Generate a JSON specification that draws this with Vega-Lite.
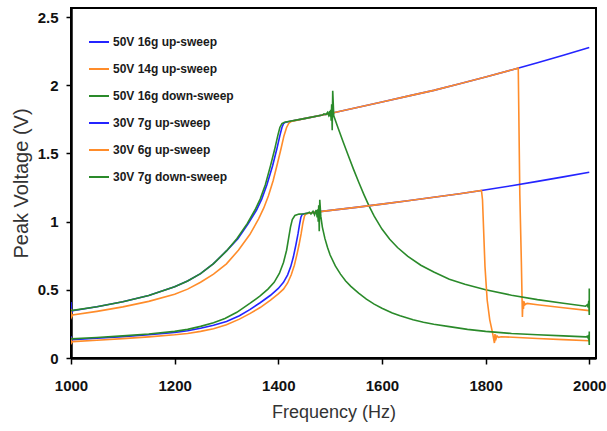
{
  "$schema": "https://vega.github.io/schema/vega-lite/v6.json",
  "width": 525,
  "height": 350,
  "padding": {"left": 71, "top": 8, "right": 11, "bottom": 73},
  "autosize": {"type": "none"},
  "background": "white",
  "config": {"view": {"stroke": "#000", "strokeWidth": 2}, "font": "Liberation Sans"},
  "data": {"values": [
    {"s":"50V 16g up-sweep","f":1000,"v":0.41},{"s":"50V 16g up-sweep","f":1001,"v":0.33},{"s":"50V 16g up-sweep","f":1003,"v":0.347},{"s":"50V 16g up-sweep","f":1050,"v":0.376},{"s":"50V 16g up-sweep","f":1100,"v":0.412},{"s":"50V 16g up-sweep","f":1150,"v":0.458},{"s":"50V 16g up-sweep","f":1200,"v":0.522},{"s":"50V 16g up-sweep","f":1225,"v":0.565},{"s":"50V 16g up-sweep","f":1250,"v":0.618},{"s":"50V 16g up-sweep","f":1275,"v":0.692},{"s":"50V 16g up-sweep","f":1300,"v":0.785},{"s":"50V 16g up-sweep","f":1322,"v":0.875},{"s":"50V 16g up-sweep","f":1342,"v":0.985},{"s":"50V 16g up-sweep","f":1358,"v":1.085},{"s":"50V 16g up-sweep","f":1368,"v":1.165},{"s":"50V 16g up-sweep","f":1378,"v":1.27},{"s":"50V 16g up-sweep","f":1389,"v":1.41},{"s":"50V 16g up-sweep","f":1397,"v":1.53},{"s":"50V 16g up-sweep","f":1403,"v":1.63},{"s":"50V 16g up-sweep","f":1407,"v":1.69},{"s":"50V 16g up-sweep","f":1410,"v":1.718},{"s":"50V 16g up-sweep","f":1414,"v":1.729},{"s":"50V 16g up-sweep","f":1450,"v":1.755},{"s":"50V 16g up-sweep","f":1500,"v":1.793},{"s":"50V 16g up-sweep","f":1550,"v":1.835},{"s":"50V 16g up-sweep","f":1600,"v":1.877},{"s":"50V 16g up-sweep","f":1650,"v":1.92},{"s":"50V 16g up-sweep","f":1700,"v":1.962},{"s":"50V 16g up-sweep","f":1750,"v":2.01},{"s":"50V 16g up-sweep","f":1800,"v":2.06},{"s":"50V 16g up-sweep","f":1850,"v":2.112},{"s":"50V 16g up-sweep","f":1900,"v":2.165},{"s":"50V 16g up-sweep","f":1950,"v":2.22},{"s":"50V 16g up-sweep","f":2000,"v":2.277},

    {"s":"50V 14g up-sweep","f":1000,"v":0.36},{"s":"50V 14g up-sweep","f":1001,"v":0.30},{"s":"50V 14g up-sweep","f":1003,"v":0.315},{"s":"50V 14g up-sweep","f":1050,"v":0.342},{"s":"50V 14g up-sweep","f":1100,"v":0.375},{"s":"50V 14g up-sweep","f":1150,"v":0.415},{"s":"50V 14g up-sweep","f":1200,"v":0.467},{"s":"50V 14g up-sweep","f":1225,"v":0.505},{"s":"50V 14g up-sweep","f":1250,"v":0.555},{"s":"50V 14g up-sweep","f":1275,"v":0.615},{"s":"50V 14g up-sweep","f":1300,"v":0.69},{"s":"50V 14g up-sweep","f":1323,"v":0.79},{"s":"50V 14g up-sweep","f":1345,"v":0.905},{"s":"50V 14g up-sweep","f":1362,"v":1.02},{"s":"50V 14g up-sweep","f":1372,"v":1.10},{"s":"50V 14g up-sweep","f":1381,"v":1.19},{"s":"50V 14g up-sweep","f":1390,"v":1.30},{"s":"50V 14g up-sweep","f":1398,"v":1.42},{"s":"50V 14g up-sweep","f":1405,"v":1.53},{"s":"50V 14g up-sweep","f":1411,"v":1.63},{"s":"50V 14g up-sweep","f":1416,"v":1.69},{"s":"50V 14g up-sweep","f":1420,"v":1.72},{"s":"50V 14g up-sweep","f":1425,"v":1.735},{"s":"50V 14g up-sweep","f":1450,"v":1.755},{"s":"50V 14g up-sweep","f":1500,"v":1.793},{"s":"50V 14g up-sweep","f":1550,"v":1.835},{"s":"50V 14g up-sweep","f":1600,"v":1.877},{"s":"50V 14g up-sweep","f":1650,"v":1.92},{"s":"50V 14g up-sweep","f":1700,"v":1.962},{"s":"50V 14g up-sweep","f":1750,"v":2.01},{"s":"50V 14g up-sweep","f":1800,"v":2.06},{"s":"50V 14g up-sweep","f":1850,"v":2.112},{"s":"50V 14g up-sweep","f":1863,"v":2.125},{"s":"50V 14g up-sweep","f":1866,"v":1.2},{"s":"50V 14g up-sweep","f":1869,"v":0.7},{"s":"50V 14g up-sweep","f":1871,"v":0.3},{"s":"50V 14g up-sweep","f":1872,"v":0.42},{"s":"50V 14g up-sweep","f":1873,"v":0.36},{"s":"50V 14g up-sweep","f":1874,"v":0.415},{"s":"50V 14g up-sweep","f":1876,"v":0.39},{"s":"50V 14g up-sweep","f":1880,"v":0.40},{"s":"50V 14g up-sweep","f":1900,"v":0.39},{"s":"50V 14g up-sweep","f":1950,"v":0.368},{"s":"50V 14g up-sweep","f":2000,"v":0.347},

    {"s":"50V 16g down-sweep","f":2000,"v":0.51},{"s":"50V 16g down-sweep","f":2000,"v":0.315},{"s":"50V 16g down-sweep","f":1999,"v":0.42},{"s":"50V 16g down-sweep","f":1998,"v":0.37},{"s":"50V 16g down-sweep","f":1996,"v":0.39},{"s":"50V 16g down-sweep","f":1993,"v":0.38},{"s":"50V 16g down-sweep","f":1950,"v":0.402},{"s":"50V 16g down-sweep","f":1900,"v":0.428},{"s":"50V 16g down-sweep","f":1850,"v":0.46},{"s":"50V 16g down-sweep","f":1800,"v":0.50},{"s":"50V 16g down-sweep","f":1760,"v":0.54},{"s":"50V 16g down-sweep","f":1730,"v":0.578},{"s":"50V 16g down-sweep","f":1700,"v":0.63},{"s":"50V 16g down-sweep","f":1675,"v":0.68},{"s":"50V 16g down-sweep","f":1650,"v":0.745},{"s":"50V 16g down-sweep","f":1630,"v":0.81},{"s":"50V 16g down-sweep","f":1615,"v":0.87},{"s":"50V 16g down-sweep","f":1600,"v":0.945},{"s":"50V 16g down-sweep","f":1585,"v":1.04},{"s":"50V 16g down-sweep","f":1575,"v":1.115},{"s":"50V 16g down-sweep","f":1565,"v":1.2},{"s":"50V 16g down-sweep","f":1555,"v":1.29},{"s":"50V 16g down-sweep","f":1545,"v":1.385},{"s":"50V 16g down-sweep","f":1535,"v":1.485},{"s":"50V 16g down-sweep","f":1525,"v":1.585},{"s":"50V 16g down-sweep","f":1515,"v":1.69},{"s":"50V 16g down-sweep","f":1507,"v":1.775},{"s":"50V 16g down-sweep","f":1505,"v":1.96},{"s":"50V 16g down-sweep","f":1504,"v":1.67},{"s":"50V 16g down-sweep","f":1503,"v":1.86},{"s":"50V 16g down-sweep","f":1502,"v":1.74},{"s":"50V 16g down-sweep","f":1501,"v":1.82},{"s":"50V 16g down-sweep","f":1500,"v":1.77},{"s":"50V 16g down-sweep","f":1499,"v":1.81},{"s":"50V 16g down-sweep","f":1497,"v":1.78},{"s":"50V 16g down-sweep","f":1495,"v":1.80},{"s":"50V 16g down-sweep","f":1492,"v":1.785},{"s":"50V 16g down-sweep","f":1488,"v":1.79},{"s":"50V 16g down-sweep","f":1485,"v":1.781},{"s":"50V 16g down-sweep","f":1450,"v":1.755},{"s":"50V 16g down-sweep","f":1412,"v":1.728},{"s":"50V 16g down-sweep","f":1407,"v":1.718},{"s":"50V 16g down-sweep","f":1403,"v":1.69},{"s":"50V 16g down-sweep","f":1399,"v":1.63},{"s":"50V 16g down-sweep","f":1393,"v":1.53},{"s":"50V 16g down-sweep","f":1385,"v":1.41},{"s":"50V 16g down-sweep","f":1375,"v":1.27},{"s":"50V 16g down-sweep","f":1365,"v":1.165},{"s":"50V 16g down-sweep","f":1355,"v":1.085},{"s":"50V 16g down-sweep","f":1340,"v":0.985},{"s":"50V 16g down-sweep","f":1320,"v":0.875},{"s":"50V 16g down-sweep","f":1300,"v":0.785},{"s":"50V 16g down-sweep","f":1275,"v":0.692},{"s":"50V 16g down-sweep","f":1250,"v":0.618},{"s":"50V 16g down-sweep","f":1225,"v":0.565},{"s":"50V 16g down-sweep","f":1200,"v":0.522},{"s":"50V 16g down-sweep","f":1150,"v":0.458},{"s":"50V 16g down-sweep","f":1100,"v":0.412},{"s":"50V 16g down-sweep","f":1050,"v":0.376},{"s":"50V 16g down-sweep","f":1000,"v":0.347},

    {"s":"30V 7g up-sweep","f":1000,"v":0.16},{"s":"30V 7g up-sweep","f":1001,"v":0.128},{"s":"30V 7g up-sweep","f":1003,"v":0.135},{"s":"30V 7g up-sweep","f":1050,"v":0.145},{"s":"30V 7g up-sweep","f":1100,"v":0.157},{"s":"30V 7g up-sweep","f":1150,"v":0.17},{"s":"30V 7g up-sweep","f":1200,"v":0.187},{"s":"30V 7g up-sweep","f":1225,"v":0.2},{"s":"30V 7g up-sweep","f":1250,"v":0.218},{"s":"30V 7g up-sweep","f":1275,"v":0.24},{"s":"30V 7g up-sweep","f":1300,"v":0.268},{"s":"30V 7g up-sweep","f":1325,"v":0.31},{"s":"30V 7g up-sweep","f":1345,"v":0.355},{"s":"30V 7g up-sweep","f":1365,"v":0.405},{"s":"30V 7g up-sweep","f":1385,"v":0.46},{"s":"30V 7g up-sweep","f":1400,"v":0.51},{"s":"30V 7g up-sweep","f":1410,"v":0.555},{"s":"30V 7g up-sweep","f":1418,"v":0.61},{"s":"30V 7g up-sweep","f":1424,"v":0.67},{"s":"30V 7g up-sweep","f":1429,"v":0.74},{"s":"30V 7g up-sweep","f":1434,"v":0.83},{"s":"30V 7g up-sweep","f":1438,"v":0.91},{"s":"30V 7g up-sweep","f":1441,"v":0.98},{"s":"30V 7g up-sweep","f":1443.5,"v":1.03},{"s":"30V 7g up-sweep","f":1446,"v":1.053},{"s":"30V 7g up-sweep","f":1450,"v":1.058},{"s":"30V 7g up-sweep","f":1480,"v":1.073},{"s":"30V 7g up-sweep","f":1550,"v":1.104},{"s":"30V 7g up-sweep","f":1600,"v":1.128},{"s":"30V 7g up-sweep","f":1650,"v":1.153},{"s":"30V 7g up-sweep","f":1700,"v":1.178},{"s":"30V 7g up-sweep","f":1750,"v":1.204},{"s":"30V 7g up-sweep","f":1792,"v":1.228},{"s":"30V 7g up-sweep","f":1850,"v":1.263},{"s":"30V 7g up-sweep","f":1900,"v":1.295},{"s":"30V 7g up-sweep","f":1950,"v":1.328},{"s":"30V 7g up-sweep","f":2000,"v":1.362},

    {"s":"30V 6g up-sweep","f":1000,"v":0.15},{"s":"30V 6g up-sweep","f":1001,"v":0.11},{"s":"30V 6g up-sweep","f":1003,"v":0.12},{"s":"30V 6g up-sweep","f":1050,"v":0.13},{"s":"30V 6g up-sweep","f":1100,"v":0.142},{"s":"30V 6g up-sweep","f":1150,"v":0.155},{"s":"30V 6g up-sweep","f":1200,"v":0.17},{"s":"30V 6g up-sweep","f":1225,"v":0.18},{"s":"30V 6g up-sweep","f":1250,"v":0.195},{"s":"30V 6g up-sweep","f":1275,"v":0.215},{"s":"30V 6g up-sweep","f":1300,"v":0.243},{"s":"30V 6g up-sweep","f":1325,"v":0.285},{"s":"30V 6g up-sweep","f":1345,"v":0.325},{"s":"30V 6g up-sweep","f":1365,"v":0.37},{"s":"30V 6g up-sweep","f":1385,"v":0.425},{"s":"30V 6g up-sweep","f":1400,"v":0.47},{"s":"30V 6g up-sweep","f":1410,"v":0.505},{"s":"30V 6g up-sweep","f":1418,"v":0.55},{"s":"30V 6g up-sweep","f":1425,"v":0.61},{"s":"30V 6g up-sweep","f":1431,"v":0.68},{"s":"30V 6g up-sweep","f":1436,"v":0.76},{"s":"30V 6g up-sweep","f":1440,"v":0.83},{"s":"30V 6g up-sweep","f":1444,"v":0.91},{"s":"30V 6g up-sweep","f":1447.5,"v":0.99},{"s":"30V 6g up-sweep","f":1450.5,"v":1.04},{"s":"30V 6g up-sweep","f":1453,"v":1.057},{"s":"30V 6g up-sweep","f":1460,"v":1.062},{"s":"30V 6g up-sweep","f":1480,"v":1.073},{"s":"30V 6g up-sweep","f":1550,"v":1.104},{"s":"30V 6g up-sweep","f":1600,"v":1.128},{"s":"30V 6g up-sweep","f":1650,"v":1.153},{"s":"30V 6g up-sweep","f":1700,"v":1.178},{"s":"30V 6g up-sweep","f":1750,"v":1.204},{"s":"30V 6g up-sweep","f":1792,"v":1.228},{"s":"30V 6g up-sweep","f":1794,"v":1.16},{"s":"30V 6g up-sweep","f":1798.8,"v":0.67},{"s":"30V 6g up-sweep","f":1803,"v":0.425},{"s":"30V 6g up-sweep","f":1808,"v":0.28},{"s":"30V 6g up-sweep","f":1813.6,"v":0.18},{"s":"30V 6g up-sweep","f":1817,"v":0.11},{"s":"30V 6g up-sweep","f":1818,"v":0.175},{"s":"30V 6g up-sweep","f":1820,"v":0.14},{"s":"30V 6g up-sweep","f":1822,"v":0.162},{"s":"30V 6g up-sweep","f":1825,"v":0.152},{"s":"30V 6g up-sweep","f":1830,"v":0.156},{"s":"30V 6g up-sweep","f":1900,"v":0.143},{"s":"30V 6g up-sweep","f":1950,"v":0.135},{"s":"30V 6g up-sweep","f":2000,"v":0.127},

    {"s":"30V 7g down-sweep","f":2000,"v":0.195},{"s":"30V 7g down-sweep","f":2000,"v":0.095},{"s":"30V 7g down-sweep","f":1999,"v":0.17},{"s":"30V 7g down-sweep","f":1998,"v":0.145},{"s":"30V 7g down-sweep","f":1996,"v":0.16},{"s":"30V 7g down-sweep","f":1993,"v":0.155},{"s":"30V 7g down-sweep","f":1950,"v":0.162},{"s":"30V 7g down-sweep","f":1900,"v":0.17},{"s":"30V 7g down-sweep","f":1850,"v":0.18},{"s":"30V 7g down-sweep","f":1800,"v":0.195},{"s":"30V 7g down-sweep","f":1765,"v":0.21},{"s":"30V 7g down-sweep","f":1730,"v":0.23},{"s":"30V 7g down-sweep","f":1700,"v":0.248},{"s":"30V 7g down-sweep","f":1680,"v":0.262},{"s":"30V 7g down-sweep","f":1660,"v":0.28},{"s":"30V 7g down-sweep","f":1635,"v":0.31},{"s":"30V 7g down-sweep","f":1620,"v":0.33},{"s":"30V 7g down-sweep","f":1600,"v":0.365},{"s":"30V 7g down-sweep","f":1585,"v":0.395},{"s":"30V 7g down-sweep","f":1570,"v":0.432},{"s":"30V 7g down-sweep","f":1555,"v":0.475},{"s":"30V 7g down-sweep","f":1540,"v":0.525},{"s":"30V 7g down-sweep","f":1530,"v":0.565},{"s":"30V 7g down-sweep","f":1520,"v":0.615},{"s":"30V 7g down-sweep","f":1510,"v":0.675},{"s":"30V 7g down-sweep","f":1500,"v":0.755},{"s":"30V 7g down-sweep","f":1495,"v":0.81},{"s":"30V 7g down-sweep","f":1490,"v":0.875},{"s":"30V 7g down-sweep","f":1485,"v":0.96},{"s":"30V 7g down-sweep","f":1482,"v":1.04},{"s":"30V 7g down-sweep","f":1480,"v":1.16},{"s":"30V 7g down-sweep","f":1479,"v":0.93},{"s":"30V 7g down-sweep","f":1478,"v":1.12},{"s":"30V 7g down-sweep","f":1477,"v":1.0},{"s":"30V 7g down-sweep","f":1476,"v":1.09},{"s":"30V 7g down-sweep","f":1475,"v":1.03},{"s":"30V 7g down-sweep","f":1473,"v":1.085},{"s":"30V 7g down-sweep","f":1470,"v":1.05},{"s":"30V 7g down-sweep","f":1467,"v":1.075},{"s":"30V 7g down-sweep","f":1463,"v":1.055},{"s":"30V 7g down-sweep","f":1460,"v":1.068},{"s":"30V 7g down-sweep","f":1455,"v":1.06},{"s":"30V 7g down-sweep","f":1450,"v":1.058},{"s":"30V 7g down-sweep","f":1440,"v":1.055},{"s":"30V 7g down-sweep","f":1432,"v":1.045},{"s":"30V 7g down-sweep","f":1427,"v":1.015},{"s":"30V 7g down-sweep","f":1423.5,"v":0.96},{"s":"30V 7g down-sweep","f":1420,"v":0.88},{"s":"30V 7g down-sweep","f":1416,"v":0.79},{"s":"30V 7g down-sweep","f":1410,"v":0.70},{"s":"30V 7g down-sweep","f":1402,"v":0.62},{"s":"30V 7g down-sweep","f":1392,"v":0.555},{"s":"30V 7g down-sweep","f":1380,"v":0.505},{"s":"30V 7g down-sweep","f":1365,"v":0.455},{"s":"30V 7g down-sweep","f":1345,"v":0.40},{"s":"30V 7g down-sweep","f":1320,"v":0.335},{"s":"30V 7g down-sweep","f":1297,"v":0.29},{"s":"30V 7g down-sweep","f":1275,"v":0.258},{"s":"30V 7g down-sweep","f":1250,"v":0.232},{"s":"30V 7g down-sweep","f":1225,"v":0.21},{"s":"30V 7g down-sweep","f":1200,"v":0.195},{"s":"30V 7g down-sweep","f":1150,"v":0.176},{"s":"30V 7g down-sweep","f":1100,"v":0.162},{"s":"30V 7g down-sweep","f":1050,"v":0.15},{"s":"30V 7g down-sweep","f":1000,"v":0.14}
  ]},
  "mark": {"type": "line", "strokeWidth": 1.6, "clip": true},
  "encoding": {
    "x": {
      "field": "f", "type": "quantitative",
      "scale": {"domain": [1000, 2013], "nice": false, "zero": false},
      "axis": {
        "values": [1000, 1200, 1400, 1600, 1800, 2000], "format": "d",
        "title": "Frequency (Hz)", "grid": false, "labelFlush": false,
        "domainColor": "#000", "domainWidth": 2.5, "tickColor": "#000", "tickSize": 6, "tickWidth": 1.5,
        "labelFont": "Liberation Sans", "labelFontWeight": "bold", "labelFontSize": 15, "labelColor": "#111", "labelPadding": 14,
        "titleFont": "Liberation Sans", "titleFontSize": 18, "titleFontWeight": "normal", "titleColor": "#333", "titlePadding": 10
      }
    },
    "y": {
      "field": "v", "type": "quantitative",
      "scale": {"domain": [0, 2.566], "nice": false, "zero": true},
      "axis": {
        "values": [0, 0.5, 1, 1.5, 2, 2.5], "format": "~g",
        "title": "Peak Voltage (V)", "grid": false, "labelFlush": false,
        "domainColor": "#000", "domainWidth": 2.5, "tickColor": "#000", "tickSize": 5, "tickWidth": 1.5,
        "labelFont": "Liberation Sans", "labelFontWeight": "bold", "labelFontSize": 15, "labelColor": "#111", "labelPadding": 8,
        "titleFont": "Liberation Sans", "titleFontSize": 20, "titleFontWeight": "normal", "titleColor": "#333", "titlePadding": 6
      }
    },
    "color": {
      "field": "s", "type": "nominal",
      "scale": {
        "domain": ["50V 16g up-sweep", "50V 14g up-sweep", "50V 16g down-sweep", "30V 7g up-sweep", "30V 6g up-sweep", "30V 7g down-sweep"],
        "range": ["#2424ff", "#ff8c2a", "#2a8a2a", "#2424ff", "#ff8c2a", "#2a8a2a"]
      },
      "legend": {
        "orient": "none", "legendX": 17, "legendY": 23, "title": null,
        "symbolType": "stroke", "symbolSize": 400, "symbolStrokeWidth": 2,
        "labelFont": "Liberation Sans", "labelFontWeight": "bold", "labelFontSize": 12, "labelColor": "#1a1a1a",
        "labelOffset": 3, "rowPadding": 10, "padding": 0, "labelLimit": 300
      }
    },
    "order": {"value": null}
  }
}
